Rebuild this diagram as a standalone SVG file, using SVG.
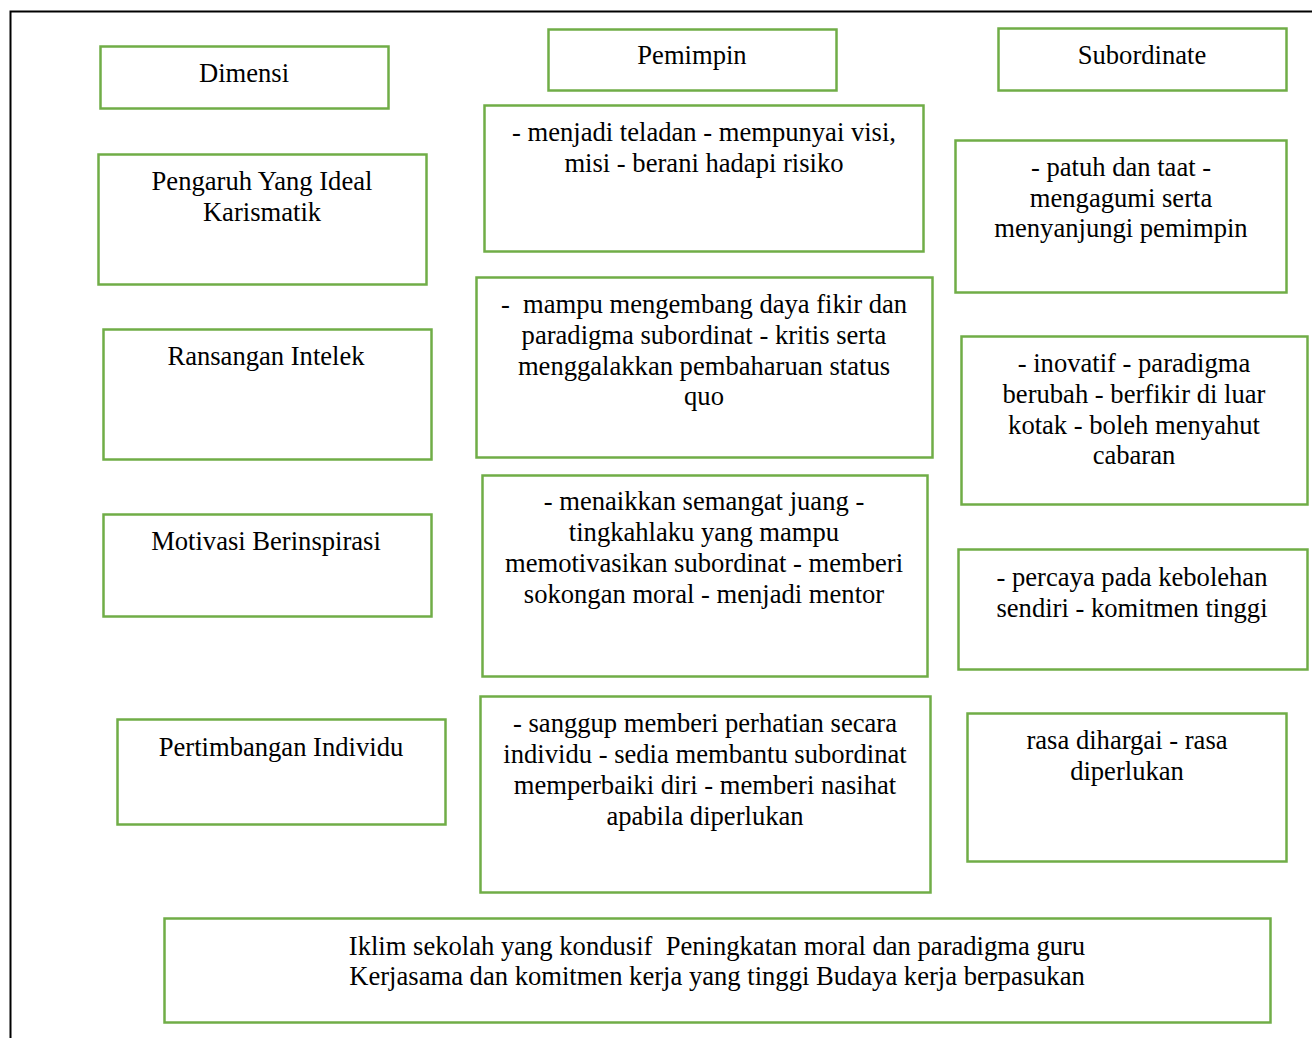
<svg xmlns="http://www.w3.org/2000/svg" width="1312" height="1038" viewBox="0 0 1312 1038">
<style>
.b{fill:#fff;stroke:#70ad47;stroke-width:2.5}
text{font-family:"Liberation Serif","Times New Roman",serif;font-size:26.6px;fill:#000;text-anchor:middle;white-space:pre}
</style>
<rect width="1312" height="1038" fill="#fff"/>
<path d="M10.5 1038V11.5H1312" fill="none" stroke="#000" stroke-width="2"/>
<g id="connectors"></g>
<g id="dimensi"><rect class="b" x="100.5" y="46.5" width="288" height="62"/><text x="244" y="82">Dimensi</text></g>
<g id="pemimpin"><rect class="b" x="548.5" y="29.5" width="288" height="61"/><text x="692" y="64">Pemimpin</text></g>
<g id="subordinate"><rect class="b" x="998.5" y="28.5" width="288" height="62"/><text x="1142" y="64">Subordinate</text></g>
<g id="pengaruh"><rect class="b" x="98.5" y="154.5" width="328" height="130"/><text x="262" y="190">Pengaruh Yang Ideal</text><text x="262" y="221">Karismatik</text></g>
<g id="p1"><rect class="b" x="484.5" y="105.5" width="439" height="146"/><text x="704" y="141">- menjadi teladan - mempunyai visi,</text><text x="704" y="172">misi - berani hadapi risiko</text></g>
<g id="s1"><rect class="b" x="955.5" y="140.5" width="331" height="152"/><text x="1121" y="176">- patuh dan taat -</text><text x="1121" y="207">mengagumi serta</text><text x="1121" y="237">menyanjungi pemimpin</text></g>
<g id="ransangan"><rect class="b" x="103.5" y="329.5" width="328" height="130"/><text x="266" y="365">Ransangan Intelek</text></g>
<g id="p2"><rect class="b" x="476.5" y="277.5" width="456" height="180"/><text x="704" y="313">-  mampu mengembang daya fikir dan</text><text x="704" y="344">paradigma subordinat - kritis serta</text><text x="704" y="375">menggalakkan pembaharuan status</text><text x="704" y="405">quo</text></g>
<g id="s2"><rect class="b" x="961.5" y="336.5" width="346" height="168"/><text x="1134" y="372">- inovatif - paradigma</text><text x="1134" y="403">berubah - berfikir di luar</text><text x="1134" y="434">kotak - boleh menyahut</text><text x="1134" y="464">cabaran</text></g>
<g id="motivasi"><rect class="b" x="103.5" y="514.5" width="328" height="102"/><text x="266" y="550">Motivasi Berinspirasi</text></g>
<g id="p3"><rect class="b" x="482.5" y="475.5" width="445" height="201"/><text x="704" y="510">- menaikkan semangat juang -</text><text x="704" y="541">tingkahlaku yang mampu</text><text x="704" y="572">memotivasikan subordinat - memberi</text><text x="704" y="603">sokongan moral - menjadi mentor</text></g>
<g id="s3"><rect class="b" x="958.5" y="549.5" width="349" height="120"/><text x="1132" y="586">- percaya pada kebolehan</text><text x="1132" y="617">sendiri - komitmen tinggi</text></g>
<g id="pertimbangan"><rect class="b" x="117.5" y="719.5" width="328" height="105"/><text x="281" y="756">Pertimbangan Individu</text></g>
<g id="p4"><rect class="b" x="480.5" y="696.5" width="450" height="196"/><text x="705" y="732">- sanggup memberi perhatian secara</text><text x="705" y="763">individu - sedia membantu subordinat</text><text x="705" y="794">memperbaiki diri - memberi nasihat</text><text x="705" y="825">apabila diperlukan</text></g>
<g id="s4"><rect class="b" x="967.5" y="713.5" width="319" height="148"/><text x="1127" y="749">rasa dihargai - rasa</text><text x="1127" y="780">diperlukan</text></g>
<g id="hasil"><rect class="b" x="164.5" y="918.5" width="1106" height="104"/><text x="717" y="955">Iklim sekolah yang kondusif  Peningkatan moral dan paradigma guru</text><text x="717" y="985">Kerjasama dan komitmen kerja yang tinggi Budaya kerja berpasukan</text></g>
</svg>
